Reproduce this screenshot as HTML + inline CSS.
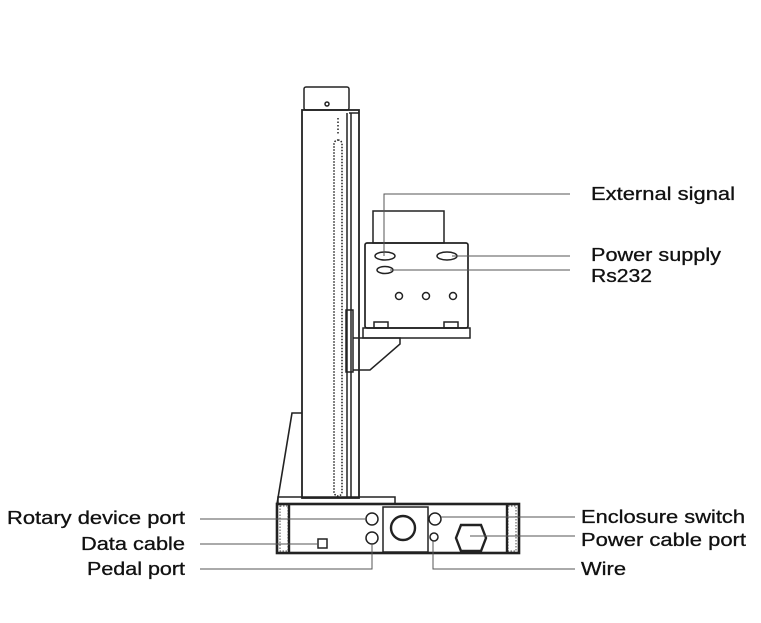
<!DOCTYPE html>
<html><head><meta charset="utf-8"><style>
html,body{margin:0;padding:0;background:#fff;width:761px;height:623px;overflow:hidden}
svg{display:block}
text{font-family:"Liberation Sans",Arial,sans-serif;font-size:18px;fill:#111}
</style></head><body>
<svg width="761" height="623" viewBox="0 0 761 623" fill="none" stroke="#222" stroke-width="1.5">
<!-- column -->
<rect x="304" y="87" width="45" height="23" rx="2"/>
<circle cx="327" cy="104" r="2"/>
<rect x="302" y="110" width="57" height="388" stroke-width="1.8"/>
<line x1="347" y1="113" x2="347" y2="497"/>
<line x1="351" y1="113" x2="351" y2="497"/>
<line x1="349" y1="113" x2="359" y2="113"/>
<rect x="334" y="140" width="8" height="356" rx="4" stroke-dasharray="1.5 1.5"/>
<line x1="338" y1="118" x2="338" y2="135" stroke-dasharray="1.5 2"/>
<!-- head -->
<rect x="373" y="211" width="71" height="32"/>
<rect x="365" y="243" width="103" height="85" rx="2" stroke-width="1.7"/>
<rect x="363" y="328" width="107" height="10"/>
<rect x="374" y="322" width="14" height="6"/><rect x="444" y="322" width="14" height="6"/>
<rect x="346" y="310" width="7" height="62"/>
<path d="M353 338 H400 V344 L370 370 H353"/>
<ellipse cx="385" cy="256" rx="10" ry="4"/>
<ellipse cx="447" cy="256" rx="10" ry="4"/>
<ellipse cx="385" cy="270" rx="8" ry="3.5"/>
<circle cx="399" cy="296" r="3.5"/><circle cx="426" cy="296" r="3.5"/><circle cx="453" cy="296" r="3.5"/>
<!-- leader lines top -->
<g stroke="#555" stroke-width="1">
<path d="M384 256 V194 H570"/>
<line x1="452" y1="256" x2="570" y2="256"/>
<line x1="390" y1="270" x2="570" y2="270"/>
</g>
<!-- support & base -->
<path d="M277 504 L292 413 H302" stroke-width="1.6"/>
<rect x="278" y="497" width="117" height="7"/>
<rect x="277" y="504" width="242" height="49" stroke-width="2.6"/>
<rect x="280" y="506" width="8" height="45" stroke-dasharray="1.5 1.5" stroke-width="0.8"/>
<rect x="508" y="506" width="8" height="45" stroke-dasharray="1.5 1.5" stroke-width="0.8"/>
<line x1="289" y1="505" x2="289" y2="552" stroke-width="2.4"/>
<line x1="507" y1="505" x2="507" y2="552" stroke-width="2.4"/>
<rect x="383" y="507" width="45" height="45"/>
<circle cx="403" cy="528" r="12" stroke-width="2.4"/>
<circle cx="372" cy="519" r="6"/><circle cx="372" cy="538" r="6"/>
<circle cx="435" cy="519" r="6"/><circle cx="434" cy="537" r="4"/>
<rect x="318" y="539" width="9" height="9"/>
<path d="M461 525 H481 L486 538 L481 551 H461 L456 538 Z" stroke-width="2.4"/>
<!-- leader lines bottom -->
<g stroke="#555" stroke-width="1">
<line x1="200" y1="519" x2="366" y2="519"/>
<line x1="200" y1="544" x2="318" y2="544"/>
<path d="M200 569 H372 V544"/>
<line x1="441" y1="517" x2="575" y2="517"/>
<line x1="470" y1="536" x2="575" y2="536"/>
<path d="M433 541 V569 H575"/>
</g>
<g stroke="#111" stroke-width="0.3">
<text x="591" y="200" textLength="144" lengthAdjust="spacingAndGlyphs">External signal</text>
<text x="591" y="261" textLength="130" lengthAdjust="spacingAndGlyphs">Power supply</text>
<text x="591" y="282" textLength="61" lengthAdjust="spacingAndGlyphs">Rs232</text>
<text x="7" y="524" textLength="178" lengthAdjust="spacingAndGlyphs">Rotary device port</text>
<text x="81" y="550" textLength="104" lengthAdjust="spacingAndGlyphs">Data cable</text>
<text x="87" y="575" textLength="98" lengthAdjust="spacingAndGlyphs">Pedal port</text>
<text x="581" y="523" textLength="164" lengthAdjust="spacingAndGlyphs">Enclosure switch</text>
<text x="581" y="546" textLength="165" lengthAdjust="spacingAndGlyphs">Power cable port</text>
<text x="581" y="575" textLength="45" lengthAdjust="spacingAndGlyphs">Wire</text>
</g>
</svg>
</body></html>
